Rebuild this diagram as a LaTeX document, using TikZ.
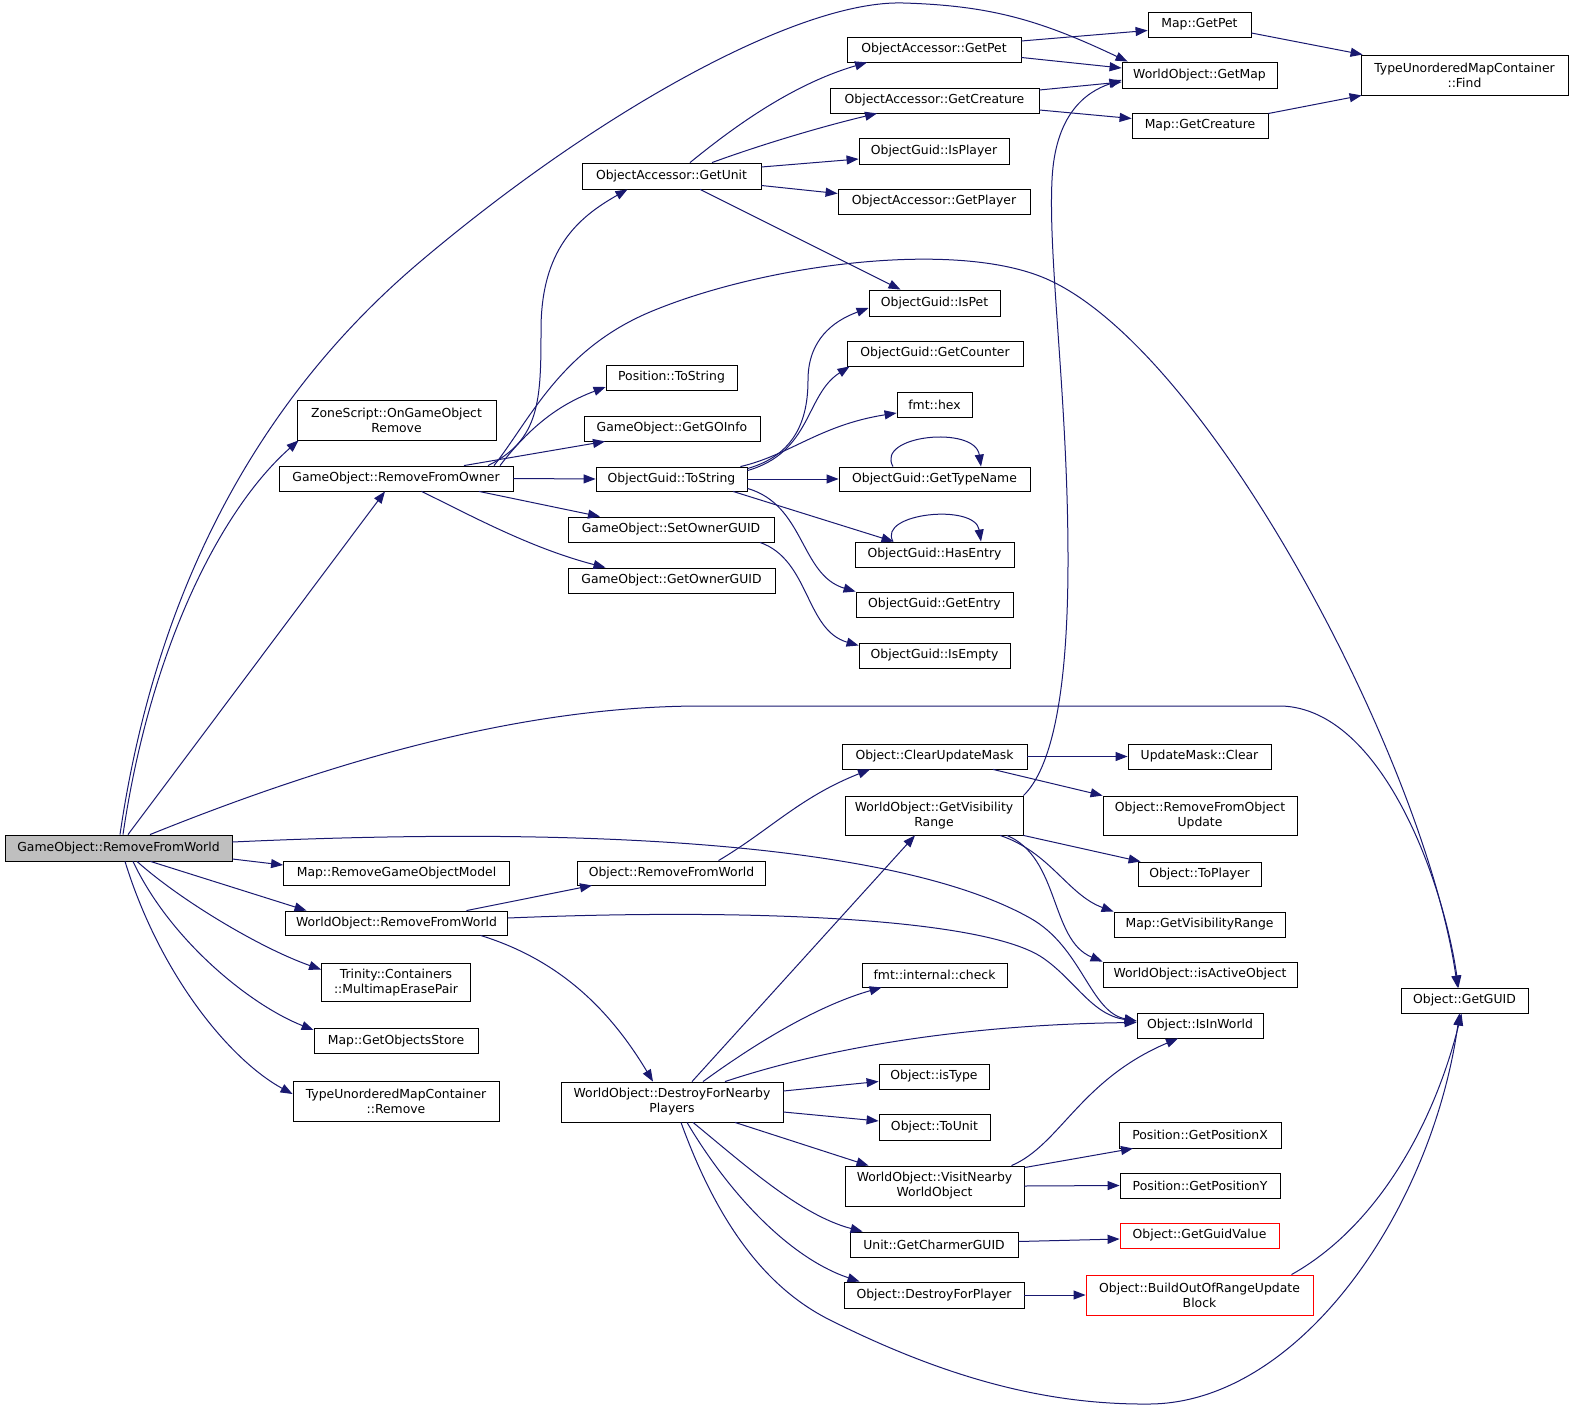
\documentclass[tikz,border=0pt]{standalone}
\usepackage{fontspec}
\newfontfamily\dvs{DejaVu Sans}
\usetikzlibrary{arrows.meta}
\definecolor{eb}{HTML}{191970}
\definecolor{gfill}{HTML}{BFBFBF}
\tikzset{
 fn/.style={draw=black, line width=0.85pt, fill=white, inner sep=0pt, align=center, font=\dvs\fontsize{12.4}{15}\selectfont},
 fnr/.style={fn, draw=red},
 fng/.style={fn, fill=gfill},
 sz/.style 2 args={minimum width=#1pt, minimum height=#2pt},
 ed/.style={draw=eb, line width=1pt, -{Triangle[length=12pt,width=9pt]}},
}
\begin{document}
\begin{tikzpicture}[x=1pt,y=-1pt]
\fill[white] (0,0) rectangle (1573,1412);
\useasboundingbox (0,0) rectangle (1573,1412);
% column 1-2
\node[fng,sz={227}{26}] (rfw) at (118.5,848) {GameObject::RemoveFromWorld};
\node[fn,sz={199}{40}] (zone) at (396.5,420) {ZoneScript::OnGameObject\\Remove};
\node[fn,sz={234}{25}] (rfo) at (396,478.5) {GameObject::RemoveFromOwner};
\node[fn,sz={226}{24}] (rgom) at (396.5,873) {Map::RemoveGameObjectModel};
\node[fn,sz={222}{24}] (worfw) at (396.5,923) {WorldObject::RemoveFromWorld};
\node[fn,sz={149}{38}] (trin) at (396,982.5) {Trinity::Containers\\::MultimapErasePair};
\node[fn,sz={164}{25}] (gos) at (396,1041) {Map::GetObjectsStore};
\node[fn,sz={206}{40}] (tumcr) at (396,1101) {TypeUnorderedMapContainer\\::Remove};
% column 3
\node[fn,sz={179}{26}] (getunit) at (671.5,176) {ObjectAccessor::GetUnit};
\node[fn,sz={131}{25}] (posts) at (671.5,377.5) {Position::ToString};
\node[fn,sz={176}{25}] (gogo) at (672,428.5) {GameObject::GetGOInfo};
\node[fn,sz={151}{24}] (ogts) at (671.5,479) {ObjectGuid::ToString};
\node[fn,sz={206}{25}] (soguid) at (671,529.5) {GameObject::SetOwnerGUID};
\node[fn,sz={207}{25}] (goguid) at (671.5,580.5) {GameObject::GetOwnerGUID};
\node[fn,sz={188}{24}] (orfw) at (671.5,873) {Object::RemoveFromWorld};
\node[fn,sz={222}{40}] (dfn) at (672,1102) {WorldObject::DestroyForNearby\\Players};
% column 4
\node[fn,sz={174}{25}] (oapet) at (934,49.5) {ObjectAccessor::GetPet};
\node[fn,sz={209}{25}] (oacre) at (934.5,100.5) {ObjectAccessor::GetCreature};
\node[fn,sz={150}{26}] (ogip) at (934,151) {ObjectGuid::IsPlayer};
\node[fn,sz={192}{25}] (oaplay) at (934,201.5) {ObjectAccessor::GetPlayer};
\node[fn,sz={131}{26}] (ogpet) at (934.5,303) {ObjectGuid::IsPet};
\node[fn,sz={176}{25}] (ogcnt) at (935,353.5) {ObjectGuid::GetCounter};
\node[fn,sz={75}{25}] (hex) at (934.5,404.5) {fmt::hex};
\node[fn,sz={191}{24}] (gtn) at (934.5,479) {ObjectGuid::GetTypeName};
\node[fn,sz={159}{25}] (hasent) at (934.5,554.5) {ObjectGuid::HasEntry};
\node[fn,sz={157}{25}] (getent) at (934.5,604.5) {ObjectGuid::GetEntry};
\node[fn,sz={151}{25}] (isempty) at (934.5,655.5) {ObjectGuid::IsEmpty};
\node[fn,sz={185}{25}] (cum) at (934.5,756.5) {Object::ClearUpdateMask};
\node[fn,sz={178}{39}] (gvr) at (934,815.5) {WorldObject::GetVisibility\\Range};
\node[fn,sz={145}{24}] (check) at (934.5,975) {fmt::internal::check};
\node[fn,sz={110}{25}] (istype) at (934,1076.5) {Object::isType};
\node[fn,sz={111}{26}] (tounit) at (934.5,1127) {Object::ToUnit};
\node[fn,sz={179}{40}] (visit) at (934.5,1186) {WorldObject::VisitNearby\\WorldObject};
\node[fn,sz={168}{25}] (charm) at (934,1244.5) {Unit::GetCharmerGUID};
\node[fn,sz={180}{26}] (dfp) at (934,1295) {Object::DestroyForPlayer};
% column 5
\node[fn,sz={103}{25}] (mgpet) at (1199.5,24.5) {Map::GetPet};
\node[fn,sz={155}{26}] (getmap) at (1199.5,75) {WorldObject::GetMap};
\node[fn,sz={136}{25}] (mgcre) at (1200,125.5) {Map::GetCreature};
\node[fn,sz={143}{25}] (umclear) at (1199.5,756.5) {UpdateMask::Clear};
\node[fn,sz={194}{39}] (rfou) at (1200,815.5) {Object::RemoveFromObject\\Update};
\node[fn,sz={123}{24}] (toplayer) at (1199.5,874) {Object::ToPlayer};
\node[fn,sz={171}{25}] (mgvr) at (1199.5,924.5) {Map::GetVisibilityRange};
\node[fn,sz={194}{25}] (isactive) at (1200,974.5) {WorldObject::isActiveObject};
\node[fn,sz={126}{25}] (isinworld) at (1200,1025.5) {Object::IsInWorld};
\node[fn,sz={162}{26}] (posx) at (1200,1135) {Position::GetPositionX};
\node[fn,sz={160}{25}] (posy) at (1200,1185.5) {Position::GetPositionY};
\node[fnr,sz={159}{25}] (guidval) at (1199.5,1235.5) {Object::GetGuidValue};
\node[fnr,sz={227}{40}] (boor) at (1199.5,1295) {Object::BuildOutOfRangeUpdate\\Block};
% column 6
\node[fn,sz={207}{40}] (find) at (1464.5,75) {TypeUnorderedMapContainer\\::Find};
\node[fn,sz={127}{25}] (getguid) at (1464.5,1000.5) {Object::GetGUID};

% edges from GameObject::RemoveFromWorld
\draw[ed] ([xshift=1.5pt]rfw.north) .. controls (160,560) and (280,380) .. (421,261) .. controls (601,109) and (800,0) .. (903,3) .. controls (990,5.5) and (1040,20) .. ([xshift=6pt]getmap.north west);
\draw[ed] ([xshift=4.5pt]rfw.north) .. controls (150,650) and (220,510) .. ([xshift=2pt]zone.south west);
\draw[ed] ([xshift=9.5pt]rfw.north) -- ([xshift=-11pt]rfo.south);
\draw[ed] ([xshift=31.5pt]rfw.north) .. controls (330,762) and (520,706) .. (702,706) -- (1282,706) .. controls (1382,710) and (1443,880) .. ([xshift=-6pt]getguid.north);
\draw[ed] ([yshift=6pt]rfw.east) .. controls (600,825) and (900,845) .. (1030,918) .. controls (1082,947) and (1090,1012) .. ([yshift=4.5pt]isinworld.west);
\draw[ed] ([yshift=-11pt]rfw.east) -- ([yshift=8pt]rgom.west);
\draw[ed] ([xshift=32pt]rfw.south) -- ([xshift=-90pt]worfw.north);
\draw[ed] ([xshift=18.5pt]rfw.south) .. controls (180,900) and (260,948) .. ([yshift=13pt]trin.west);
\draw[ed] ([xshift=14.5pt]rfw.south) .. controls (170,940) and (250,1005) .. ([yshift=11pt]gos.west);
\draw[ed] ([xshift=6.5pt]rfw.south) .. controls (160,975) and (230,1060) .. ([yshift=7pt]tumcr.west);

% edges from GameObject::RemoveFromOwner
\draw[ed] ([xshift=92pt]rfo.north) .. controls (540,440) and (541,400) .. (541,330) .. controls (541,250) and (577,218) .. ([xshift=-44pt]getunit.south);
\draw[ed] ([xshift=98pt]rfo.north) .. controls (530,420) and (560,350) .. (650,312) .. controls (762,265) and (950,240) .. (1042,277) .. controls (1205,342.5) and (1425,760) .. ([xshift=-7pt]getguid.north);
\draw[ed] ([xshift=104pt]rfo.north) .. controls (535,420) and (566,402) .. ([yshift=-9.5pt]posts.west);
\draw[ed] ([xshift=68pt]rfo.north) -- ([xshift=-67pt]gogo.south);
\draw[ed] (rfo.east) -- (ogts.west);
\draw[ed] ([xshift=83pt]rfo.south) -- ([xshift=-71pt]soguid.north);
\draw[ed] ([xshift=25.5pt]rfo.south) .. controls (470,515) and (530,548) .. ([xshift=-66pt]goguid.north);

% edges from ObjectAccessor::GetUnit
\draw[ed] ([xshift=18.5pt]getunit.north) .. controls (730,130) and (790,85) .. ([xshift=-67pt]oapet.south);
\draw[ed] ([xshift=40.5pt]getunit.north) .. controls (760,145) and (820,127) .. ([xshift=-57.5pt]oacre.south);
\draw[ed] ([yshift=9pt]getunit.east) -- ([yshift=-8pt]ogip.west);
\draw[ed] ([yshift=-9.5pt]getunit.east) -- ([yshift=8pt]oaplay.west);
\draw[ed] ([xshift=28.5pt]getunit.south) -- ([xshift=-34pt]ogpet.north);

\draw[ed] ([yshift=8.5pt]oapet.east) -- ([yshift=-6pt]mgpet.west);
\draw[ed] ([yshift=-8pt]oapet.east) -- ([yshift=7pt]getmap.west);
\draw[ed] ([yshift=10.5pt]oacre.east) -- ([yshift=-7pt]getmap.west);
\draw[ed] ([yshift=-9.5pt]oacre.east) -- ([yshift=7pt]mgcre.west);
\draw[ed] ([yshift=-8.5pt]mgpet.east) -- ([xshift=2pt]find.north west);
\draw[ed] ([yshift=12pt]mgcre.east) -- ([xshift=1pt]find.south west);

\draw[ed] (gvr.north east) .. controls (1050,770) and (1068,700) .. (1068,560) .. controls (1068,400) and (1048,260) .. (1052,180) .. controls (1055,115) and (1085,92) .. ([yshift=-5pt]getmap.west);

% edges from ObjectGuid::ToString
\draw[ed] ([yshift=-2pt]ogts.north east) .. controls (795,455) and (808,420) .. (808,380) .. controls (808,340) and (833,321) .. ([yshift=-5pt]ogpet.west);
\draw[ed] ([yshift=-4pt]ogts.north east) .. controls (812,452) and (805,395) .. ([xshift=3pt]ogcnt.south west);
\draw[ed] ([xshift=-7pt]ogts.north east) .. controls (790,455) and (820,425) .. ([yshift=-8.5pt]hex.west);
\draw[ed] (ogts.east) -- (gtn.west);
\draw[ed] ([xshift=61.5pt]ogts.south) -- ([xshift=-41pt]hasent.north);
\draw[ed] ([yshift=3pt]ogts.south east) .. controls (805,505) and (800,575) .. (getent.north west);
\draw[ed] ([xshift=-41.5pt]gtn.north) .. controls (875,435) and (975,425) .. ([xshift=46.5pt]gtn.north);
\draw[ed] ([xshift=-41.5pt]hasent.north) .. controls (877,513) and (975,503) .. ([xshift=46.5pt]hasent.north);
\draw[ed] ([xshift=89pt]soguid.south) .. controls (810,560) and (805,630) .. ([yshift=10pt]isempty.west);

% edges from WorldObject::RemoveFromWorld
\draw[ed] ([xshift=70pt]worfw.north) -- ([xshift=-79.5pt]orfw.south);
\draw[ed] ([yshift=5pt]worfw.east) .. controls (750,908) and (985,918) .. (1043,958) .. controls (1075,980) and (1092,1015) .. ([yshift=4.5pt]isinworld.west);
\draw[ed] ([xshift=84pt]worfw.south) .. controls (560,960) and (610,1010) .. ([xshift=-19pt]dfn.north);

\draw[ed] ([xshift=47pt]orfw.north) .. controls (770,830) and (800,797) .. ([xshift=-64.5pt]cum.south);
\draw[ed] (cum.east) -- (umclear.west);
\draw[ed] ([xshift=58.5pt]cum.south) -- (rfou.north west);
\draw[ed] (gvr.south east) -- ([xshift=3pt]toplayer.north west);
\draw[ed] ([xshift=66pt]gvr.south) .. controls (1050,852) and (1068,895) .. (mgvr.north west);
\draw[ed] ([xshift=73pt]gvr.south) .. controls (1060,858) and (1050,940) .. (isactive.north west);

% edges from WorldObject::DestroyForNearbyPlayers
\draw[ed] ([xshift=20pt]dfn.north) -- ([xshift=-19pt]gvr.south);
\draw[ed] ([xshift=31pt]dfn.north) .. controls (760,1040) and (820,1005) .. ([xshift=20pt]check.south west);
\draw[ed] ([xshift=53pt]dfn.north) .. controls (850,1040) and (1000,1024) .. ([yshift=3pt]isinworld.west);
\draw[ed] ([yshift=11pt]dfn.east) -- ([yshift=-5pt]istype.west);
\draw[ed] ([yshift=-10pt]dfn.east) -- ([yshift=6pt]tounit.west);
\draw[ed] ([xshift=63pt]dfn.south) -- ([xshift=-66pt]visit.north);
\draw[ed] ([xshift=21pt]dfn.south) .. controls (745,1165) and (800,1215) .. ([xshift=13pt]charm.north west);
\draw[ed] ([xshift=15pt]dfn.south) .. controls (730,1195) and (790,1258) .. ([xshift=16pt]dfp.north west);
\draw[ed] ([xshift=9pt]dfn.south) .. controls (720,1230) and (770,1290) .. (830,1320) .. controls (950,1380) and (1050,1405) .. (1150,1404) .. controls (1300,1402.5) and (1432,1210) .. ([xshift=-5pt]getguid.south);

\draw[ed] ([xshift=77pt]visit.north) .. controls (1060,1145) and (1080,1080) .. ([xshift=-22pt]isinworld.south);
\draw[ed] ([yshift=-2pt]visit.north east) -- ([xshift=-67pt]posx.south);
\draw[ed] (visit.east) -- (posy.west);
\draw[ed] ([yshift=3pt]charm.east) -- ([yshift=-3.5pt]guidval.west);
\draw[ed] (dfp.east) -- (boor.west);
\draw[ed] ([xshift=92pt]boor.north) .. controls (1380,1225) and (1435,1120) .. ([xshift=-3pt]getguid.south);
\end{tikzpicture}
\end{document}
